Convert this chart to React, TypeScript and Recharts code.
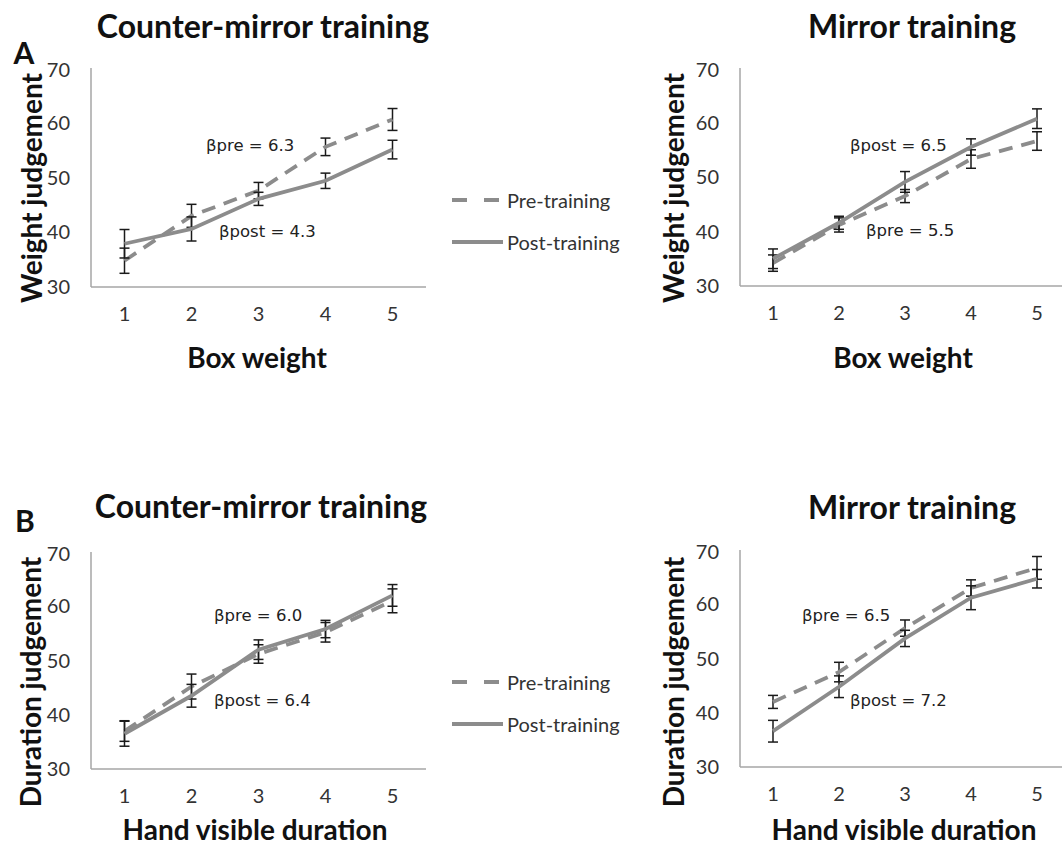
import { LineChart, Line, XAxis, YAxis, ErrorBar, Legend } from 'recharts'

// x categories shared by all four panels
const levels = [1, 2, 3, 4, 5]
const yTicks = [30, 40, 50, 60, 70]

// A - weight judgement, counter-mirror training
const weightCounterPre = [34.8, 43.0, 47.6, 55.6, 60.6]
const weightCounterPreErr = [2.3, 2.1, 1.5, 1.6, 2.0]
const weightCounterPost = [37.9, 40.6, 46.1, 49.4, 55.1]
const weightCounterPostErr = [2.6, 2.2, 1.2, 1.4, 1.7]

// A - weight judgement, mirror training
const weightMirrorPre = [34.2, 41.2, 46.5, 53.3, 56.6]
const weightMirrorPreErr = [1.5, 1.3, 1.2, 1.7, 1.7]
const weightMirrorPost = [35.0, 41.6, 49.1, 55.5, 60.7]
const weightMirrorPostErr = [1.8, 1.2, 1.9, 1.5, 1.8]

// B - duration judgement, counter-mirror training
const durationCounterPre = [37.0, 45.2, 51.2, 55.2, 61.0]
const durationCounterPreErr = [1.9, 2.3, 1.7, 1.8, 2.2]
const durationCounterPost = [36.5, 43.5, 52.0, 55.8, 62.0]
const durationCounterPostErr = [2.3, 2.1, 1.8, 1.6, 2.0]

// B - duration judgement, mirror training
const durationMirrorPre = [42.0, 47.5, 55.6, 63.0, 66.7]
const durationMirrorPreErr = [1.2, 1.8, 1.5, 1.5, 2.1]
const durationMirrorPost = [36.6, 44.8, 53.7, 61.2, 64.7]
const durationMirrorPostErr = [2.0, 2.0, 1.5, 2.2, 1.7]

const FONT = 'Lato, "Open Sans", sans-serif'
const LINE = '#8c8c8c'
const AXIS = '#a6a6a6'
const TEXT = '#333'

const buildRows = (pre: number[], preErr: number[], post: number[], postErr: number[]) =>
    levels.map((x, i) => ({
        x,
        pre: pre[i],
        preErr: preErr[i],
        post: post[i],
        postErr: postErr[i],
    }))

const renderLegend = (props: any) => {
    // pre first, like the original figure
    const items = [...(props.payload ?? [])].sort((a: any, b: any) =>
        a.dataKey === 'pre' ? -1 : b.dataKey === 'pre' ? 1 : 0
    )
    return (
        <div>
            {items.map((item: any) => (
                <div key={item.value} style={{ display: 'flex', alignItems: 'center', height: 42 }}>
                    <svg width={54} height={10}>
                        <line
                            x1={2}
                            y1={5}
                            x2={53}
                            y2={5}
                            stroke={LINE}
                            strokeWidth={4}
                            strokeDasharray={item.dataKey === 'pre' ? '15 17' : undefined}
                        />
                    </svg>
                    <span style={{ marginLeft: 3, fontSize: 20, color: TEXT, fontFamily: FONT }}>{item.value}</span>
                </div>
            ))}
        </div>
    )
}

interface PanelProps {
    rows: ReturnType<typeof buildRows>
    x0: number
    y0: number
    plotW: number
    plotH: number
    legendTop?: number
}

const Panel = ({ rows, x0, y0, plotW, plotH, legendTop }: PanelProps) => {
    const axisW = 50
    const hasLegend = legendTop !== undefined
    const width = axisW + plotW + (hasLegend ? 240 : 5)
    const height = 10 + plotH + 40
    const halfBand = plotW / levels.length / 2
    const tick = { fill: TEXT, fontSize: 20, fontFamily: FONT }
    return (
        <div style={{ position: 'absolute', left: x0 - axisW, top: y0 - 10 }}>
            <LineChart
                width={width}
                height={height}
                data={rows}
                margin={{ top: 10, right: hasLegend ? 240 : 5, bottom: 0, left: 0 }}
            >
                <XAxis
                    dataKey='x'
                    height={40}
                    padding={{ left: halfBand, right: halfBand }}
                    tickLine={false}
                    tickSize={0}
                    tickMargin={20}
                    tick={tick}
                    axisLine={{ stroke: AXIS, strokeWidth: 1.5 }}
                />
                <YAxis
                    width={axisW}
                    domain={[30, 70]}
                    ticks={yTicks}
                    tickLine={false}
                    tickSize={0}
                    tickMargin={21}
                    tick={tick}
                    axisLine={{ stroke: AXIS, strokeWidth: 1.5 }}
                />
                <Line
                    dataKey='pre'
                    name='Pre-training'
                    stroke={LINE}
                    strokeWidth={3.8}
                    strokeDasharray='14 9'
                    dot={false}
                    isAnimationActive={false}
                >
                    <ErrorBar dataKey='preErr' width={5} stroke='#1a1a1a' strokeWidth={1.5} direction='y' />
                </Line>
                <Line
                    dataKey='post'
                    name='Post-training'
                    stroke={LINE}
                    strokeWidth={3.8}
                    dot={false}
                    isAnimationActive={false}
                >
                    <ErrorBar dataKey='postErr' width={5} stroke='#1a1a1a' strokeWidth={1.5} direction='y' />
                </Line>
                {hasLegend && (
                    <Legend
                        layout='vertical'
                        align='center'
                        verticalAlign='middle'
                        content={renderLegend}
                        wrapperStyle={{ left: axisW + plotW + 24, top: legendTop, width: 220 }}
                    />
                )}
            </LineChart>
        </div>
    )
}

const Beta = ({ sub, value, left, top }: { sub: string; value: string; left: number; top: number }) => (
    <div
        style={{
            position: 'absolute',
            left,
            top,
            transform: 'translateY(-50%)',
            fontFamily: '"DejaVu Sans", sans-serif',
            fontSize: 16.5,
            color: '#222',
            whiteSpace: 'nowrap',
        }}
    >
        β{sub} = {value}
    </div>
)

const Title = ({ text, cx, cy, size = 32 }: { text: string; cx: number; cy: number; size?: number }) => (
    <div
        style={{
            position: 'absolute',
            left: cx,
            top: cy,
            transform: 'translate(-50%, -50%)',
            fontFamily: FONT,
            fontWeight: 700,
            fontSize: size,
            color: '#111',
            whiteSpace: 'nowrap',
        }}
    >
        {text}
    </div>
)

const YTitle = ({ text, cx, cy }: { text: string; cx: number; cy: number }) => (
    <div
        style={{
            position: 'absolute',
            left: cx,
            top: cy,
            transform: 'translate(-50%, -50%) rotate(-90deg)',
            fontFamily: FONT,
            fontWeight: 700,
            fontSize: 28,
            color: '#111',
            whiteSpace: 'nowrap',
        }}
    >
        {text}
    </div>
)

export default function App() {
    return (
        <div
            style={{
                position: 'absolute',
                left: 0,
                top: 0,
                width: 1062,
                height: 849,
                overflow: 'hidden',
                background: '#fff',
            }}
        >
            <Panel
                rows={buildRows(weightCounterPre, weightCounterPreErr, weightCounterPost, weightCounterPostErr)}
                x0={91}
                y0={68}
                plotW={335}
                plotH={219}
                legendTop={121}
            />
            <Panel
                rows={buildRows(weightMirrorPre, weightMirrorPreErr, weightMirrorPost, weightMirrorPostErr)}
                x0={740}
                y0={68}
                plotW={330}
                plotH={218}
            />
            <Panel
                rows={buildRows(durationCounterPre, durationCounterPreErr, durationCounterPost, durationCounterPostErr)}
                x0={91}
                y0={552}
                plotW={335}
                plotH={217}
                legendTop={119}
            />
            <Panel
                rows={buildRows(durationMirrorPre, durationMirrorPreErr, durationMirrorPost, durationMirrorPostErr)}
                x0={740}
                y0={550}
                plotW={330}
                plotH={217}
            />

            <Title text='Counter-mirror training' cx={263} cy={25} />
            <Title text='Mirror training' cx={912} cy={25} />
            <Title text='Counter-mirror training' cx={261} cy={505} />
            <Title text='Mirror training' cx={912} cy={506} />
            <Title text='A' cx={24} cy={52} size={30} />
            <Title text='B' cx={25} cy={520} size={30} />

            <YTitle text='Weight judgement' cx={31} cy={188} />
            <YTitle text='Weight judgement' cx={673} cy={188} />
            <YTitle text='Duration judgement' cx={30} cy={682} />
            <YTitle text='Duration judgement' cx={673} cy={682} />

            <Title text='Box weight' cx={257} cy={357} size={28} />
            <Title text='Box weight' cx={903} cy={357} size={28} />
            <Title text='Hand visible duration' cx={255} cy={829} size={28} />
            <Title text='Hand visible duration' cx={904} cy={829} size={28} />

            <Beta sub='pre' value='6.3' left={206} top={145} />
            <Beta sub='post' value='4.3' left={219} top={231} />
            <Beta sub='post' value='6.5' left={850} top={145} />
            <Beta sub='pre' value='5.5' left={866} top={230} />
            <Beta sub='pre' value='6.0' left={214} top={615} />
            <Beta sub='post' value='6.4' left={214} top={700} />
            <Beta sub='pre' value='6.5' left={802} top={615} />
            <Beta sub='post' value='7.2' left={850} top={700} />
        </div>
    )
}
